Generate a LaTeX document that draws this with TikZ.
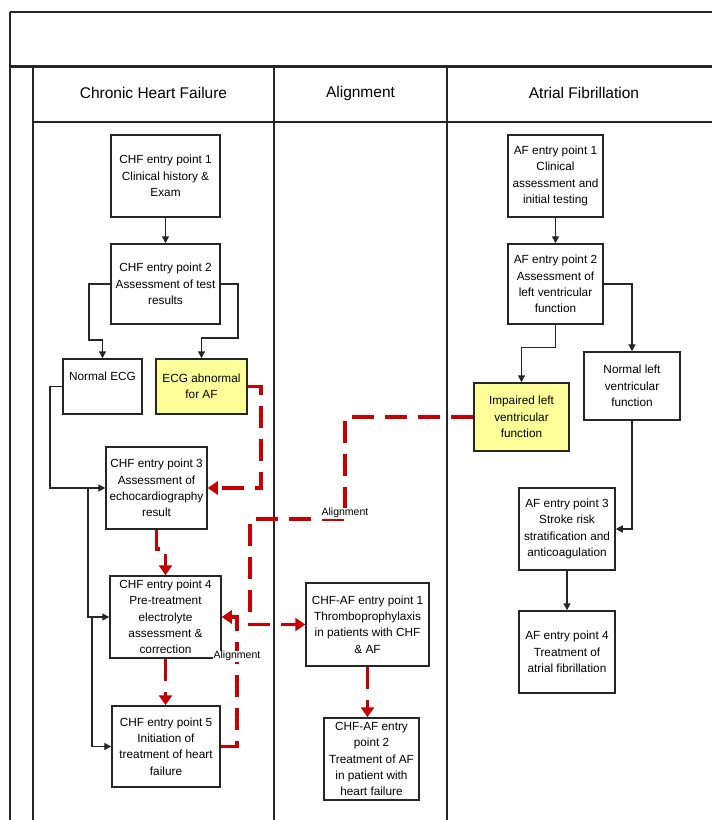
\documentclass[tikz,border=0pt]{standalone}
\usepackage{fontspec}
\setmainfont{Liberation Sans}
\usetikzlibrary{arrows.meta}
\definecolor{linkred}{RGB}{200,0,0}
\definecolor{hilite}{RGB}{255,255,153}
\tikzset{
  frame/.style={line width=1.4pt, draw=black!85},
  box/.style={draw=black!85, line width=1.5pt, fill=white, align=center, inner sep=0pt,
    font=\fontsize{11.8}{16.3}\selectfont},
  hibox/.style={box, fill=hilite},
  lane/.style={font=\fontsize{15.5}{18}\selectfont},
  flow/.style={draw=black!85, line width=1.4pt, -{Triangle[length=7pt,width=7pt]}},
  align link/.style={draw=linkred, line width=3.5pt, dash pattern=on 22pt off 11pt,
    -{Triangle[length=10pt,width=13pt]}},
  tag/.style={fill=white, inner sep=0.6pt, font=\fontsize{10.5}{12}\selectfont}
}
\begin{document}
\begin{tikzpicture}[x=1pt,y=-1pt]
\useasboundingbox (0,0) rectangle (712,820);

% swimlane frame
\draw[frame] (10,12) -- (712,12);
\draw[frame] (10,12) -- (10,820);
\draw[draw=black!85, line width=3pt] (10,66) -- (712,66);
\draw[frame] (33,66) -- (33,820);
\draw[frame] (33,122) -- (712,122);
\draw[frame] (274,66) -- (274,820);
\draw[frame] (447,66) -- (447,820);

\node[lane] (hchf) at (153.5,93) {Chronic Heart Failure};
\node[lane] (hal) at (360.5,93) {Alignment};
\node[lane] (haf) at (584,93) {Atrial Fibrillation};

% chronic heart failure lane
\node[box, minimum width=109pt, minimum height=82pt] (chf1) at (165.5,176)
  {CHF entry point 1\\Clinical history \&\\Exam};
\node[box, minimum width=109pt, minimum height=80pt] (chf2) at (165.5,284)
  {CHF entry point 2\\Assessment of test\\results};
\node[box, minimum width=79pt, minimum height=55pt] (necg) at (102.5,386.5)
  {Normal ECG\\\strut};
\node[hibox, minimum width=91pt, minimum height=55pt] (aecg) at (201.5,386.5)
  {ECG abnormal\\for AF};
\node[box, minimum width=101pt, minimum height=82pt] (chf3) at (156.5,488)
  {CHF entry point 3\\Assessment of\\echocardiography\\result};
\node[box, minimum width=111pt, minimum height=82pt] (chf4) at (165.5,617)
  {CHF entry point 4\\Pre-treatment\\electrolyte\\assessment \&\\correction};
\node[box, minimum width=108pt, minimum height=81pt] (chf5) at (166,746.5)
  {CHF entry point 5\\Initiation of\\treatment of heart\\failure};

% alignment lane
\node[box, minimum width=123pt, minimum height=83pt] (caf1) at (367.5,624.5)
  {CHF-AF entry point 1\\Thromboprophylaxis\\in patients with CHF\\\& AF};
\node[box, minimum width=95pt, minimum height=82pt] (caf2) at (371.5,759)
  {CHF-AF entry\\point 2\\Treatment of AF\\in patient with\\heart failure};

% atrial fibrillation lane
\node[box, minimum width=95pt, minimum height=82pt] (af1) at (555.5,176)
  {AF entry point 1\\Clinical\\assessment and\\initial testing};
\node[box, minimum width=95pt, minimum height=80pt] (af2) at (555.5,284)
  {AF entry point 2\\Assessment of\\left ventricular\\function};
\node[hibox, minimum width=95pt, minimum height=68pt] (imp) at (521.5,417)
  {Impaired left\\ventricular\\function};
\node[box, minimum width=96pt, minimum height=68pt] (nlv) at (632,386)
  {Normal left\\ventricular\\function};
\node[box, minimum width=96pt, minimum height=82pt] (af3) at (567,529)
  {AF entry point 3\\Stroke risk\\stratification and\\anticoagulation};
\node[box, minimum width=96pt, minimum height=82pt] (af4) at (567,652)
  {AF entry point 4\\Treatment of\\atrial fibrillation};

% junctions on the left trunk
\coordinate (j3) at (88,488);
\coordinate (j4) at (92,617);

% black flow connectors
\draw[flow] (chf1) -- (chf2);
\draw[flow] (chf2.west) -| (89,340) -| (necg.north);
\draw[flow] (chf2.east) -| (238,338) -| (aecg.north);
\draw[flow] (necg.west) -| (50,488) -- (chf3.west);
\draw[flow] (j3) |- (chf4.west);
\draw[flow] (j4) |- (chf5.west);
\draw[flow] (af1) -- (af2);
\draw[flow] (af2.south) -- ++(0,23) -| (imp.north);
\draw[flow] (af2.east) -| (nlv.north);
\draw[flow] (nlv.south) |- (af3.east);
\draw[flow] (af3) -- (af4);

% red alignment links
\draw[align link] (aecg.east) -| (261,488) -- (chf3.east);
\draw[align link] (chf3.south) -- ++(0,19) -| (chf4.north);
\draw[align link] (chf4.south) -- (chf4.south |- chf5.north);
\draw[align link] (chf5.east) -| (237,617) -- (chf4.east);
\draw[align link] (imp.west) -| (345,519) -| (250,624.5) -- (caf1.west);
\draw[align link] (caf1.south) -- (caf1.south |- caf2.north);

\node[tag] (t1) at (237,656) {Alignment};
\node[tag] (t2) at (345,513) {Alignment};
\end{tikzpicture}
\end{document}
